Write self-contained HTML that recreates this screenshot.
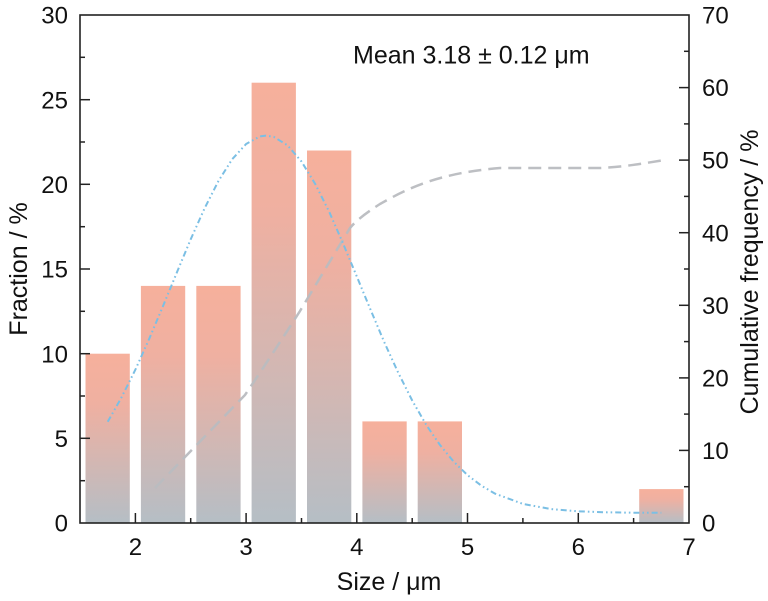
<!DOCTYPE html>
<html>
<head>
<meta charset="utf-8">
<style>
html,body{margin:0;padding:0;background:#fff;}
svg{display:block;}
text{font-family:"Liberation Sans",Arial,sans-serif;fill:#111;}
</style>
</head>
<body>
<svg width="768" height="601" viewBox="0 0 768 601" xmlns="http://www.w3.org/2000/svg">
<defs>
<linearGradient id="g" x1="0" y1="0" x2="0" y2="1">
<stop offset="0" stop-color="#f6b09c"/>
<stop offset="0.3" stop-color="#efb0a1"/>
<stop offset="1" stop-color="#b5bec5"/>
</linearGradient>
</defs>
<rect width="768" height="601" fill="#fff"/>

<!-- bars -->
<g fill="url(#g)">
<rect x="85.5" y="353.7" width="44.3" height="169.3"/>
<rect x="140.9" y="285.9" width="44.3" height="237.1"/>
<rect x="196.3" y="285.9" width="44.3" height="237.1"/>
<rect x="251.6" y="82.7" width="44.3" height="440.3"/>
<rect x="307.0" y="150.5" width="44.3" height="372.5"/>
<rect x="362.4" y="421.4" width="44.3" height="101.6"/>
<rect x="417.7" y="421.4" width="44.3" height="101.6"/>
<rect x="639.2" y="489.1" width="44.3" height="33.9"/>
</g>

<!-- cumulative dashed -->
<path d="M155,488 L245,395 Q270,358 300,311 L350,228 Q358,218 380,204 C410,187 440,173 500,168 L600,168 C625,167 645,163 665,160" fill="none" stroke="#b9bcc0" stroke-width="2.5" stroke-dasharray="13,7" opacity="0.95"/>

<!-- gaussian dash-dot-dot -->
<path d="M107.7,421.8 L121.5,397.4 L135.4,369.6 L149.2,338.8 L163.0,306.1 L176.9,272.4 L190.7,239.3 L204.6,208.3 L218.4,181.1 L232.2,159.2 L246.1,144.0 L259.9,136.4 L266.0,135.6 L273.8,136.9 L287.6,145.4 L301.5,161.5 L315.3,184.1 L329.2,211.8 L343.0,243.3 L356.8,276.5 L370.7,310.1 L384.5,342.7 L398.4,373.1 L412.2,400.5 L426.0,424.5 L439.9,444.9 L453.7,461.7 L467.5,475.1 L481.4,485.7 L495.2,493.7 L522.9,503.9 L550.6,509.0 L578.3,511.3 L606.0,512.3 L633.6,512.7 L661.3,512.8" fill="none" stroke="#7bbfe4" stroke-width="2" stroke-dasharray="6,3,1.6,3,1.6,3" stroke-linejoin="round"/>

<!-- axes box -->
<rect x="80" y="15" width="609" height="508" fill="none" stroke="#222" stroke-width="1.6"/>

<!-- left ticks -->
<g stroke="#222" stroke-width="1.5">
<line x1="80" y1="438.3" x2="90" y2="438.3"/>
<line x1="80" y1="353.7" x2="90" y2="353.7"/>
<line x1="80" y1="269" x2="90" y2="269"/>
<line x1="80" y1="184.3" x2="90" y2="184.3"/>
<line x1="80" y1="99.7" x2="90" y2="99.7"/>
<line x1="80" y1="480.7" x2="85" y2="480.7"/>
<line x1="80" y1="396" x2="85" y2="396"/>
<line x1="80" y1="311.3" x2="85" y2="311.3"/>
<line x1="80" y1="226.7" x2="85" y2="226.7"/>
<line x1="80" y1="142" x2="85" y2="142"/>
<line x1="80" y1="57.3" x2="85" y2="57.3"/>
<!-- right ticks -->
<line x1="689" y1="450.4" x2="679" y2="450.4"/>
<line x1="689" y1="377.9" x2="679" y2="377.9"/>
<line x1="689" y1="305.3" x2="679" y2="305.3"/>
<line x1="689" y1="232.7" x2="679" y2="232.7"/>
<line x1="689" y1="160.1" x2="679" y2="160.1"/>
<line x1="689" y1="87.6" x2="679" y2="87.6"/>
<line x1="689" y1="486.7" x2="684" y2="486.7"/>
<line x1="689" y1="414.1" x2="684" y2="414.1"/>
<line x1="689" y1="341.6" x2="684" y2="341.6"/>
<line x1="689" y1="269" x2="684" y2="269"/>
<line x1="689" y1="196.4" x2="684" y2="196.4"/>
<line x1="689" y1="123.9" x2="684" y2="123.9"/>
<line x1="689" y1="51.3" x2="684" y2="51.3"/>
<!-- x ticks -->
<line x1="135.4" y1="523" x2="135.4" y2="513"/>
<line x1="246.1" y1="523" x2="246.1" y2="513"/>
<line x1="356.8" y1="523" x2="356.8" y2="513"/>
<line x1="467.5" y1="523" x2="467.5" y2="513"/>
<line x1="578.3" y1="523" x2="578.3" y2="513"/>
<line x1="190.7" y1="523" x2="190.7" y2="518"/>
<line x1="301.5" y1="523" x2="301.5" y2="518"/>
<line x1="412.2" y1="523" x2="412.2" y2="518"/>
<line x1="522.9" y1="523" x2="522.9" y2="518"/>
<line x1="633.6" y1="523" x2="633.6" y2="518"/>
</g>

<!-- left tick labels -->
<g font-size="24" text-anchor="end">
<text x="68" y="531.6">0</text>
<text x="68" y="446.9">5</text>
<text x="68" y="362.3">10</text>
<text x="68" y="277.6">15</text>
<text x="68" y="192.9">20</text>
<text x="68" y="108.3">25</text>
<text x="68" y="23.6">30</text>
</g>
<!-- right tick labels -->
<g font-size="24" text-anchor="start">
<text x="702" y="531.6">0</text>
<text x="702" y="459">10</text>
<text x="702" y="386.5">20</text>
<text x="702" y="313.9">30</text>
<text x="702" y="241.3">40</text>
<text x="702" y="168.7">50</text>
<text x="702" y="96.2">60</text>
<text x="702" y="23.6">70</text>
</g>
<!-- x tick labels -->
<g font-size="24" text-anchor="middle">
<text x="135.4" y="555">2</text>
<text x="246.1" y="555">3</text>
<text x="356.8" y="555">4</text>
<text x="467.5" y="555">5</text>
<text x="578.3" y="555">6</text>
<text x="689" y="555">7</text>
</g>

<!-- axis titles -->
<text x="389" y="590" font-size="25" text-anchor="middle">Size / μm</text>
<text transform="translate(27,269) rotate(-90)" font-size="25" text-anchor="middle">Fraction / %</text>
<text transform="translate(758,272) rotate(-90)" font-size="25" text-anchor="middle">Cumulative frequency / %</text>

<!-- annotation -->
<text x="353" y="63.3" font-size="25">Mean 3.18 ± 0.12 μm</text>
</svg>
</body>
</html>
